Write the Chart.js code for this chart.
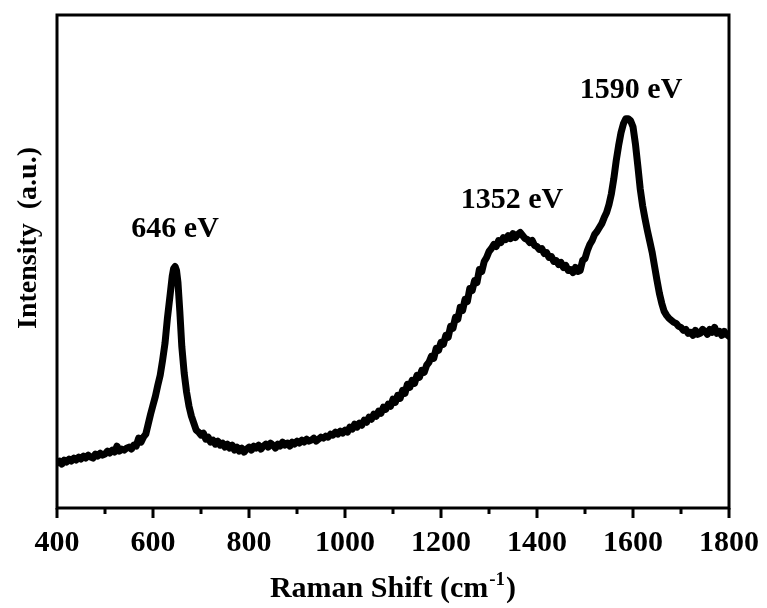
<!DOCTYPE html>
<html><head><meta charset="utf-8">
<script src="https://cdn.jsdelivr.net/npm/chart.js@4"></script>
<style>html,body{margin:0;padding:0;background:#fff}#wrap{width:767px;height:608px}</style>
</head><body><div id="wrap"><canvas id="c" width="767" height="608"></canvas></div>
<script>
const wavenumbers = [400,405,410,415,420,425,430,435,440,445,450,455,460,465,470,475,480,485,490,495,500,505,510,515,520,525,530,535,540,545,550,555,560,565,570,575,580,585,590,595,600,605,610,615,620,625,630,636,640,643,646,649,652,656,660,665,670,675,680,685,690,695,700,705,710,715,720,725,730,735,740,745,750,755,760,765,770,775,780,785,790,795,800,805,810,815,820,825,830,835,840,845,850,855,860,865,870,875,880,885,890,895,900,905,910,915,920,925,930,935,940,945,950,955,960,965,970,975,980,985,990,995,
1000,1005,1010,1015,1020,1025,1030,1035,1040,1045,1050,1055,1060,1065,1070,1075,1080,1085,1090,1095,1100,1105,1110,1115,1120,1125,1130,1135,1140,1145,1150,1155,1160,1165,1170,1175,1180,1185,1190,1195,1200,1205,1210,1215,1220,1225,1230,1235,1240,1245,1250,1255,1260,1265,1270,1275,1280,1285,1290,1295,1300,1305,1310,1315,1320,1325,1330,1335,1340,1345,1350,1355,1360,1365,1370,1375,1380,1385,1390,1395,1400,1405,1410,1415,1420,1425,1430,1435,1440,1445,1450,1455,1460,1465,1470,1475,1480,1485,1490,1495,1500,1505,1510,1515,1520,1525,1530,1535,1540,1545,1550,1555,1560,1565,1570,1575,1580,1585,1590,1595,1600,1605,1610,1615,1620,1625,1630,1635,1640,1645,1650,1655,1660,1665,1670,1675,1680,1685,1690,1695,1700,1705,1710,1715,1720,1725,1730,1735,1740,1745,1750,1755,1760,1765,1770,1775,1780,1785,1790,1795,1800];
const intensity = [45,47,44,48,46,49,47,50,48,51,49,52,50,53,51,50,54,52,55,53,54,57,55,58,56,62,57,59,58,60,61,59,63,62,70,66,71,74,84,94,103,112,123,133,148,165,190,215,232,240,242,238,226,196,162,135,116,102,92,85,78,76,73,75,69,71,66,68,64,67,63,65,61,64,60,63,58,61,57,60,56,59,61,58,62,60,63,59,62,64,61,65,63,60,64,62,66,63,65,62,66,64,67,65,68,66,69,67,68,70,67,69,71,70,72,71,74,73,76,74,77,75,
78,76,81,79,84,81,85,83,88,86,91,89,94,92,97,95,101,99,104,102,109,106,113,110,118,115,124,121,128,125,133,131,138,136,143,146,152,150,160,158,166,164,173,171,182,180,191,189,201,198,209,207,220,218,228,226,239,237,247,251,257,260,264,262,268,266,271,269,273,270,275,271,274,276,273,270,269,266,268,263,262,259,260,255,256,251,252,247,248,244,246,241,243,238,239,236,241,237,238,248,250,258,264,268,274,277,281,285,291,296,304,315,330,348,363,376,385,390,390,388,382,365,343,320,303,290,278,267,256,242,228,215,205,197,193,190,188,186,185,182,181,178,179,175,176,173,178,174,175,179,177,174,179,176,181,175,177,173,177,174,172];
const majorTicks = [400,600,800,1000,1200,1400,1600,1800];
const minorTicks = [500,700,900,1100,1300,1500,1700];
const peakLabels = ['646 eV','1352 eV','1590 eV'];
const peakLabelX = [646,1348,1596];
const peakLabelY = [272,301,411];
const xTitle = 'Raman Shift (cm';
const xTitleSup = '-1';
const xTitleEnd = ')';
const yTitle = 'Intensity  (a.u.)';

const FONT = '"Liberation Serif", "Times New Roman", serif';

const decor = {
  id: 'decor',
  afterDraw(chart) {
    const ctx = chart.ctx, a = chart.chartArea;
    const xs = chart.scales.x, ys = chart.scales.y;
    ctx.save();
    ctx.strokeStyle = '#000';
    ctx.lineWidth = 3;
    ctx.strokeRect(a.left, a.top, a.right - a.left, a.bottom - a.top);
    majorTicks.forEach(v => {
      const px = xs.getPixelForValue(v);
      ctx.beginPath(); ctx.moveTo(px, a.bottom); ctx.lineTo(px, a.bottom + 10); ctx.stroke();
    });
    minorTicks.forEach(v => {
      const px = xs.getPixelForValue(v);
      ctx.beginPath(); ctx.moveTo(px, a.bottom); ctx.lineTo(px, a.bottom + 6); ctx.stroke();
    });
    ctx.fillStyle = '#000';
    ctx.font = 'bold 30px ' + FONT;
    ctx.textAlign = 'center';
    ctx.textBaseline = 'alphabetic';
    peakLabels.forEach((t, i) => {
      ctx.fillText(t, xs.getPixelForValue(peakLabelX[i]), ys.getPixelForValue(peakLabelY[i]));
    });
    // x title
    const big = 'bold 30px ' + FONT, small = 'bold 19px ' + FONT;
    ctx.font = big;
    const w1 = ctx.measureText(xTitle).width;
    ctx.font = small;
    const w2 = ctx.measureText(xTitleSup).width;
    ctx.font = big;
    const w3 = ctx.measureText(xTitleEnd).width;
    const total = w1 + w2 + w3;
    const cx = 392;
    let sx = cx - total / 2;
    const by = 597;
    ctx.textAlign = 'left';
    ctx.fillText(xTitle, sx, by);
    ctx.font = small;
    ctx.fillText(xTitleSup, sx + w1 + 1, by - 12);
    ctx.font = big;
    ctx.fillText(xTitleEnd, sx + w1 + w2 + 2, by);
    // y title
    ctx.translate(29, 238);
    ctx.rotate(-Math.PI / 2);
    ctx.textAlign = 'center';
    ctx.textBaseline = 'middle';
    ctx.font = 'bold 28px ' + FONT;
    ctx.fillText(yTitle, 0, 0);
    ctx.restore();
  }
};

new Chart(document.getElementById('c'), {
  type: 'line',
  data: {
    datasets: [{
      data: wavenumbers.map((x, i) => ({x: x, y: intensity[i]})),
      borderColor: '#000',
      borderWidth: 7,
      borderJoinStyle: 'round',
      borderCapStyle: 'round',
      pointRadius: 0,
      tension: 0,
      fill: false
    }]
  },
  options: {
    responsive: false,
    animation: false,
    layout: { padding: { left: 57, right: 38, top: 15, bottom: 0 } },
    plugins: { legend: { display: false }, tooltip: { enabled: false } },
    scales: {
      x: {
        type: 'linear', min: 400, max: 1800,
        grid: { display: false },
        border: { display: false },
        ticks: {
          stepSize: 200, autoSkip: false, maxRotation: 0,
          color: '#000', padding: 9,
          font: { family: FONT, size: 30, weight: 'bold' },
          callback: (v) => String(v)
        },
        afterFit: (s) => { s.height = 100; s.paddingRight = 0; s.paddingLeft = 0; }
      },
      y: { display: false, min: 0, max: 494 }
    }
  },
  plugins: [decor]
});
</script>
</body></html>
